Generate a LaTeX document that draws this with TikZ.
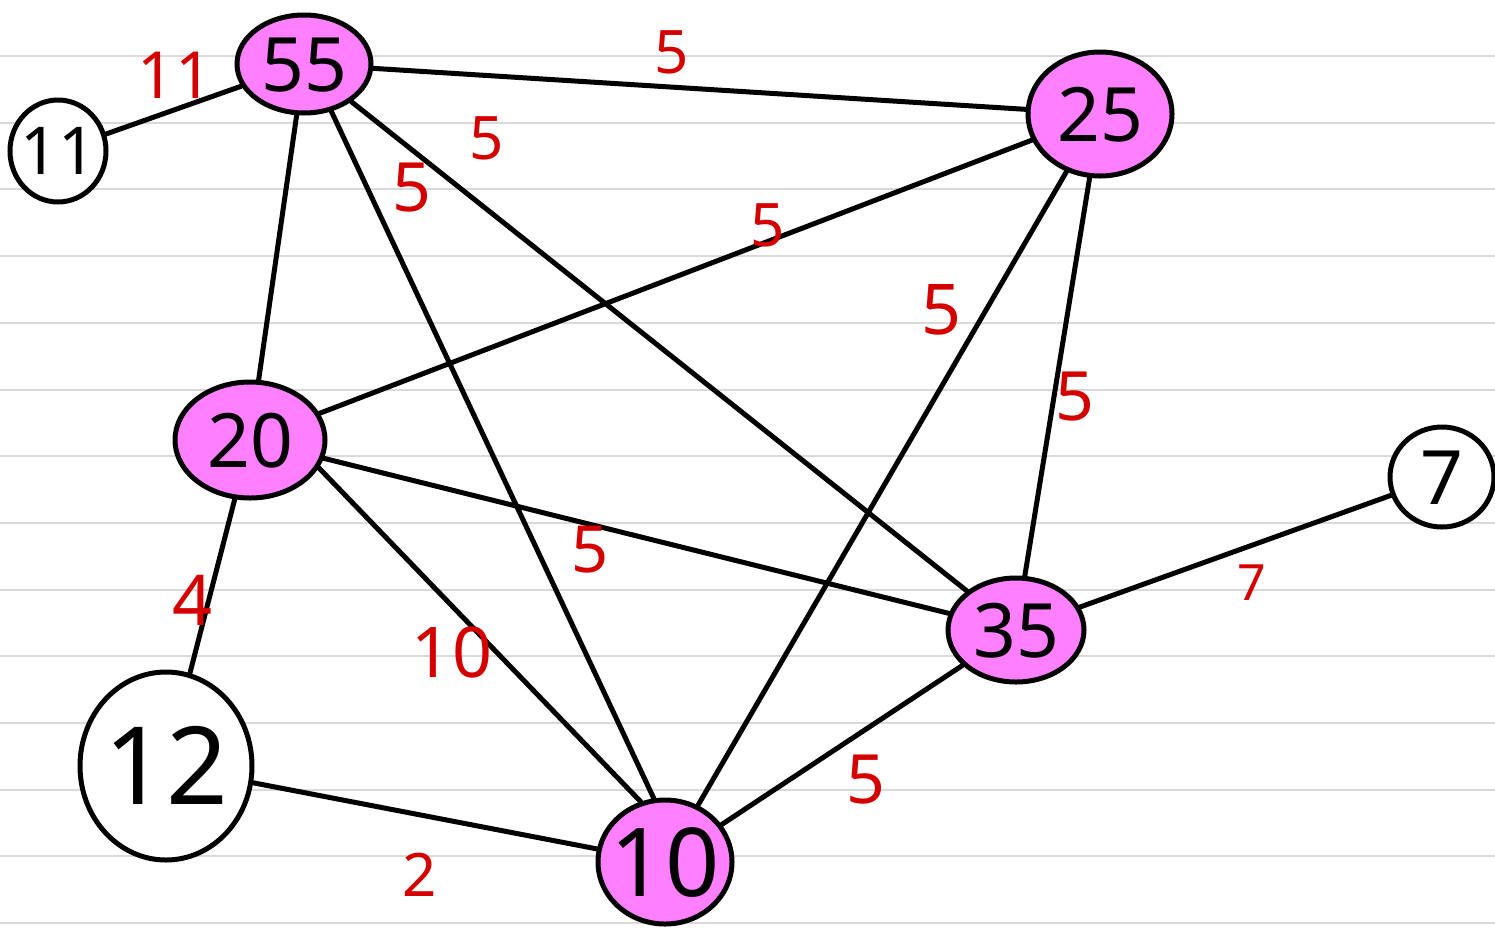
\documentclass[tikz,border=0pt]{standalone}
\usepackage{fontspec}
\setmainfont{Noto Sans}
\usetikzlibrary{shapes.geometric}
\definecolor{hl}{RGB}{255,128,255}
\definecolor{wred}{RGB}{212,0,0}
\definecolor{rule}{RGB}{217,217,217}
\newcommand{\vt}[1]{\makebox[0pt]{\raisebox{-0.36em}[0pt][0pt]{#1}}}
\tikzset{
  vtx/.style={ellipse, draw=black, line width=5pt, inner sep=0pt, font=\fontsize{75}{80}\selectfont},
  hot/.style={vtx, fill=hl},
  cold/.style={vtx, fill=white},
  edge/.style={draw=black, line width=5pt, line cap=round},
  wt/.style={text=wred, inner sep=0pt, font=\fontsize{60}{64}\selectfont},
  ruleline/.style={draw=rule, line width=2pt}
}
\begin{document}
\begin{tikzpicture}[x=1pt, y=-1pt]
\useasboundingbox (0,0) rectangle (1495,927);
\fill[white] (0,0) rectangle (1495,927);
\foreach \k in {0,...,13} {
  \draw[ruleline] (0,{56+66.7*\k}) -- (1495,{56+66.7*\k});
}
% nodes
\node[hot, minimum width=134pt, minimum height=98pt] (n55) at (304,64) {\vt{55}};
\node[cold, minimum width=96pt, minimum height=102pt, font=\fontsize{66}{70}\selectfont] (n11) at (58,151) {\vt{11}};
\node[hot, minimum width=144pt, minimum height=124pt] (n25) at (1100,114) {\vt{25}};
\node[hot, minimum width=150pt, minimum height=116pt] (n20) at (250,440) {\vt{20}};
\node[cold, minimum width=104pt, minimum height=100pt] (n7) at (1442,477) {\vt{7}};
\node[hot, minimum width=136pt, minimum height=104pt] (n35) at (1016,630) {\vt{35}};
\node[cold, minimum width=172pt, minimum height=188pt, font=\fontsize{108}{112}\selectfont] (n12) at (166,766) {\vt{12}};
\node[hot, minimum width=134pt, minimum height=124pt, font=\fontsize{95}{100}\selectfont] (n10) at (665,862) {\vt{10}};
% edges
\draw[edge] (n11) -- (n55);
\draw[edge] (n55) -- (n25);
\draw[edge] (n55) -- (n20);
\draw[edge] (n55.-60) -- (n10.100);
\draw[edge] (n55) -- (n35);
\draw[edge] (n25) -- (n20);
\draw[edge] (n25) -- (n10);
\draw[edge] (n25) -- (n35);
\draw[edge] (n20) -- (n35);
\draw[edge] (n20.-22) -- (n10.112);
\draw[edge] (n20) -- (n12);
\draw[edge] (n12) -- (n10);
\draw[edge] (n35) -- (n10);
\draw[edge] (n35) -- (n7);
% weights
\node[wt, font=\fontsize{65}{70}\selectfont] (w1) at (175,75) {11};
\node[wt] (w2) at (672,52) {5};
\node[wt] (w3) at (487,138) {5};
\node[wt, font=\fontsize{68}{70}\selectfont] (w4) at (412,188) {5};
\node[wt] (w5) at (768,225) {5};
\node[wt, font=\fontsize{70}{72}\selectfont] (w6) at (942,310) {5};
\node[wt, font=\fontsize{68}{70}\selectfont] (w7) at (1075,397) {5};
\node[wt, font=\fontsize{65}{70}\selectfont] (w8) at (590,550) {5};
\node[wt, font=\fontsize{70}{74}\selectfont] (w9) at (452,652) {10};
\node[wt, font=\fontsize{70}{72}\selectfont] (w10) at (193,600) {4};
\node[wt] (w11) at (420,875) {2};
\node[wt, font=\fontsize{68}{70}\selectfont] (w12) at (866,780) {5};
\node[wt, font=\fontsize{50}{54}\selectfont] (w13) at (1252,583) {7};
\end{tikzpicture}
\end{document}
